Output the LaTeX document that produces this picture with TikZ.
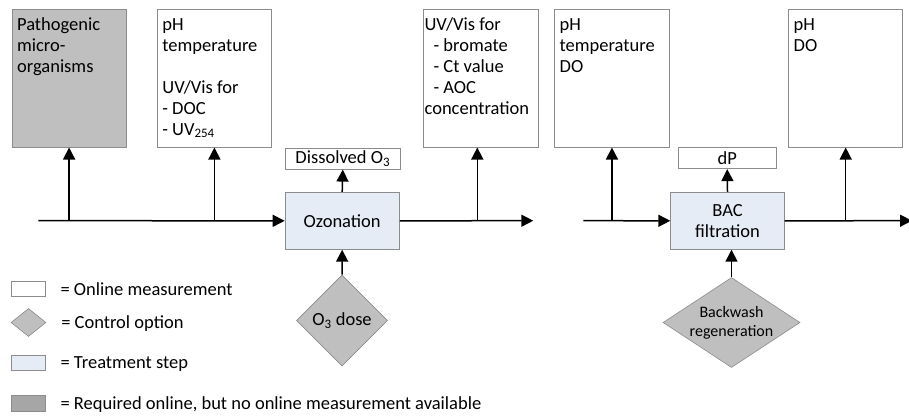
\documentclass[tikz,border=0pt]{standalone}
\usepackage{fontspec}
\setmainfont{Carlito}
\usetikzlibrary{arrows.meta,shapes.geometric,positioning}

\definecolor{framegray}{HTML}{8C8C8C}
\definecolor{stepblue}{HTML}{E6ECF6}
\definecolor{reqgray}{HTML}{BFBFBF}
\definecolor{reqdark}{HTML}{A6A6A6}

\newcommand{\fs}{\fontsize{18.5pt}{21pt}\selectfont}
\newcommand{\meastext}[2]{\parbox[c][137.4pt][t]{#1}{\raggedright\vspace{6.7pt}\rule{0pt}{14pt}#2}}

\tikzset{
  measbox/.style={draw=framegray, line width=0.8pt, anchor=north west, inner xsep=5pt, inner ysep=0pt, font=\fs},
  stepbox/.style={draw=framegray, line width=0.8pt, fill=stepblue, minimum width=114pt, minimum height=57pt, align=center, inner sep=0pt, font=\fs},
  smallbox/.style={draw=framegray, line width=0.8pt, minimum height=21pt, inner sep=0pt, font=\fs},
  ctrl/.style={diamond, draw=framegray, line width=0.6pt, fill=reqgray, inner sep=0pt, align=center},
  flow/.style={line width=1.5pt, -{Triangle[length=12pt,width=12pt]}},
  legtext/.style={anchor=west, inner sep=0pt, text height=12pt, text depth=0pt, font=\fs},
}

\begin{document}
\begin{tikzpicture}[x=1pt, y=-1pt]

	\useasboundingbox (0,0) rectangle (909,415);

	% measurement boxes
	\node[measbox, fill=reqgray] (patho) at (11.7,9.3) {\meastext{104pt}{Pathogenic\\micro-\\organisms}};
	\node[measbox] (mpre) at (157,9.3) {\meastext{104pt}{pH\\temperature\\[21pt]UV/Vis for\\- DOC\\- UV\textsubscript{254}}};
	\node[measbox, inner xsep=1.5pt] (mpost) at (422.7,9.3) {\meastext{112pt}{UV/Vis for\\\hspace*{9pt}- bromate\\\hspace*{9pt}- Ct value\\\hspace*{9pt}- AOC\\concentration}};
	\node[measbox] (mbac) at (554.3,9.3) {\meastext{104.5pt}{pH\\temperature\\DO}};
	\node[measbox] (mout) at (788.3,9.3) {\meastext{104pt}{pH\\DO}};

	% treatment steps
	\node[stepbox, minimum width=114.3pt] (ozon) at (342.2,220.8) {Ozonation};
	\node[stepbox, minimum width=113.6pt] (bac) at (727.5,220.8) {BAC\\filtration};

	\node[smallbox, minimum width=114.3pt] (diss) at (342.8,158.7) {Dissolved O\textsubscript{3}};
	\node[smallbox, minimum width=97.7pt] (dp) at (727.2,158.2) {dP};

	% control options
	\node[ctrl, minimum width=91pt, minimum height=91pt, font=\fs] (dose) at (342,320.5) {O\textsubscript{3} dose};
	\node[ctrl, aspect=1.52, minimum width=137pt, minimum height=90pt, font=\fontsize{16pt}{19pt}\selectfont] (wash) at (731.5,322.5) {Backwash\\regeneration};

	% main line
	\coordinate (feed) at (38.3,220.7);
	\coordinate (ozout) at (533.3,220.7);
	\coordinate (tap) at (477.3,220.7);
	\coordinate (feed2) at (583.3,220.7);
	\coordinate (out) at (912,220.7);

	\draw[flow] (feed) -- (ozon.west);
	\draw[flow] (patho.south |- feed) -- (patho.south);
	\draw[flow] (mpre.south |- feed) -- (mpre.south);
	\draw[flow] (ozon.east) -- (ozout);
	\draw[flow] (tap) -- (tap |- mpost.south);
	\draw[flow] (ozon.north) -- (diss.south);
	\draw[flow] (dose.north) -- (ozon.south);

	\draw[flow] (feed2) -- (bac.west);
	\draw[flow] (mbac.south |- feed2) -- (mbac.south);
	\draw[flow] (bac.east) -- (out);
	\draw[flow] (mout.south |- out) -- (mout.south);
	\draw[flow] (bac.north) -- (dp.south);
	\draw[flow] (wash.north) -- (wash.north |- bac.south);

	% legend
	\node[draw=framegray, line width=0.8pt, minimum width=34pt, minimum height=15pt, inner sep=0pt] (lmeas) at (28.7,289.2) {};
	\node[ctrl, aspect=1.25, minimum width=35pt, minimum height=28pt] (ldia) at (28.5,322.5) {};
	\node[draw=framegray, line width=0.8pt, fill=stepblue, minimum width=34pt, minimum height=15pt, inner sep=0pt] (lstep) at (28.7,362.5) {};
	\node[draw=framegray, line width=0.8pt, fill=reqdark, minimum width=34pt, minimum height=16.7pt, inner sep=0pt] (lreq) at (28.7,403.3) {};

	\node[legtext, right=14.3pt of lmeas] (tmeas) {= Online measurement};
	\node[legtext, right=14.8pt of ldia] (tdia) {= Control option};
	\node[legtext, right=14.3pt of lstep] (tstep) {= Treatment step};
	\node[legtext, right=14.3pt of lreq] (treq) {= Required online, but no online measurement available};

\end{tikzpicture}
\end{document}
